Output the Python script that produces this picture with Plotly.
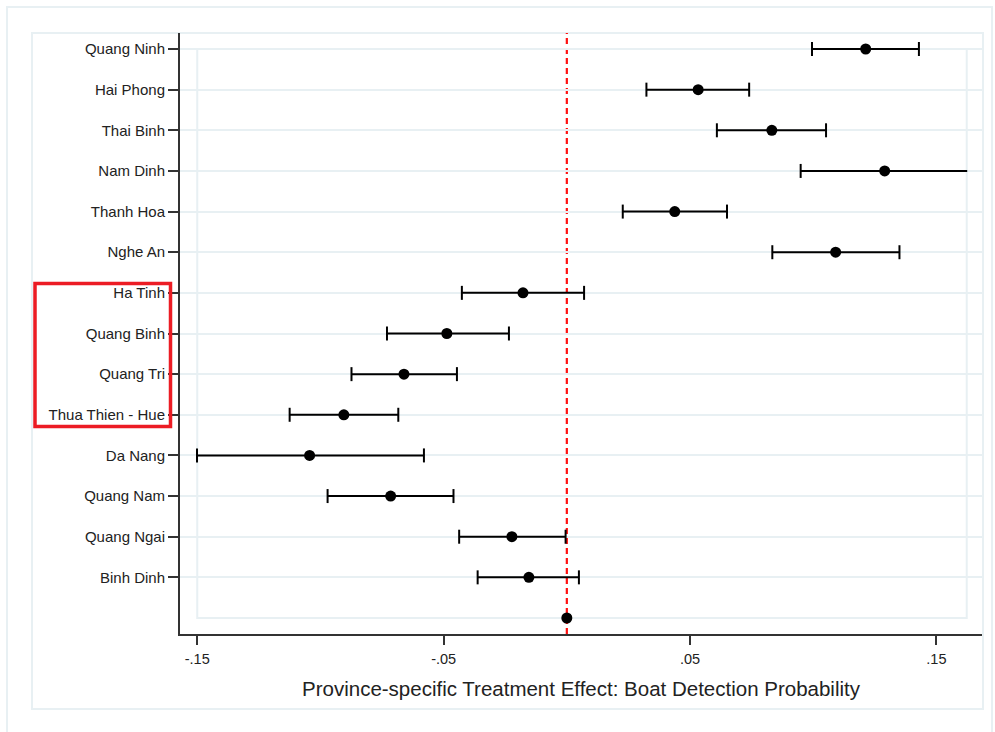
import plotly.graph_objects as go

# ---- data ----
provinces = ["Quang Ninh", "Hai Phong", "Thai Binh", "Nam Dinh", "Thanh Hoa", "Nghe An",
             "Ha Tinh", "Quang Binh", "Quang Tri", "Thua Thien - Hue", "Da Nang",
             "Quang Nam", "Quang Ngai", "Binh Dinh", ""]
estimate = [0.1213, 0.0533, 0.0832, 0.1290, 0.0438, 0.1091,
            -0.0178, -0.0487, -0.0661, -0.0905, -0.1044,
            -0.0715, -0.0223, -0.0154, 0.0]
ci_low = [0.0995, 0.0323, 0.0609, 0.0949, 0.0227, 0.0834,
          -0.0426, -0.0730, -0.0874, -0.1125, -0.1501,
          -0.0971, -0.0437, -0.0362, None]
ci_high = [0.1429, 0.0740, 0.1052, 0.1625, 0.0650, 0.1350,
           0.0070, -0.0235, -0.0446, -0.0684, -0.0580,
           -0.0460, -0.0005, 0.0049, None]
x_ticks = [-0.15, -0.05, 0.05, 0.15]
x_ticklabels = ["-.15", "-.05", ".05", ".15"]
x_title = "Province-specific Treatment Effect: Boat Detection Probability"

W, H = 995, 732
L, R, T, B = 180, 13, 33, 98
pw, ph = W - L - R, H - T - B

def px(x):
    return (x - L) / pw

def py(y):
    return (H - B - y) / ph

rows = list(range(1, len(provinces) + 1))

fig = go.Figure()

# CI lines
lx, ly = [], []
for r, lo, hi in zip(rows, ci_low, ci_high):
    if lo is None:
        continue
    lx += [lo, hi, None]
    ly += [r, r, None]
fig.add_trace(go.Scatter(x=lx, y=ly, mode="lines", line=dict(color="black", width=2),
                         hoverinfo="skip", showlegend=False))

# caps (Nam Dinh upper end reaches plot edge without cap)
cx, cy = [], []
for i, (r, lo, hi) in enumerate(zip(rows, ci_low, ci_high)):
    if lo is None:
        continue
    cx.append(lo); cy.append(r)
    if provinces[i] != "Nam Dinh":
        cx.append(hi); cy.append(r)
fig.add_trace(go.Scatter(x=cx, y=cy, mode="markers",
                         marker=dict(symbol="line-ns", size=10, line=dict(color="black", width=2)),
                         hoverinfo="skip", showlegend=False))

# point estimates
fig.add_trace(go.Scatter(x=estimate, y=rows, mode="markers",
                         marker=dict(color="black", size=11),
                         showlegend=False))

grid_col = "#e8f0f3"
shapes = []
# outer frame
shapes.append(dict(type="rect", xref="paper", yref="paper",
                   x0=px(7), x1=px(992), y0=py(745), y1=py(7),
                   line=dict(color=grid_col, width=2), layer="below"))
# graph region frame
shapes.append(dict(type="rect", xref="paper", yref="paper",
                   x0=px(32), x1=px(983), y0=py(709), y1=py(33),
                   line=dict(color=grid_col, width=2), layer="below"))
# inner plot region
shapes.append(dict(type="rect", xref="x", yref="y",
                   x0=-0.15, x1=0.1623, y0=1, y1=15,
                   line=dict(color=grid_col, width=2), layer="below"))
# zero line
shapes.append(dict(type="line", xref="x", yref="paper", x0=0, x1=0, y0=0, y1=1,
                   line=dict(color="#ff1010", width=2.2, dash="6px,4px"), layer="below"))
# red highlight box
shapes.append(dict(type="rect", xref="paper", yref="paper",
                   x0=px(35), x1=px(170.5), y0=py(426.5), y1=py(283.5),
                   line=dict(color="#ec1c24", width=3.5)))

fig.update_layout(
    width=W, height=H,
    margin=dict(l=L, r=R, t=T, b=B),
    paper_bgcolor="white", plot_bgcolor="white",
    font=dict(family="Liberation Sans, Arial, sans-serif", color="#222222"),
    shapes=shapes,
    showlegend=False,
)
fig.update_xaxes(
    range=[-0.157, 0.1685], tickvals=x_ticks, ticktext=x_ticklabels,
    ticks="outside", ticklen=9, tickwidth=2, tickcolor="#333333",
    showline=True, linecolor="#333333", linewidth=2, showgrid=False, zeroline=False,
    tickfont=dict(size=14.5), ticklabelstandoff=2,
    title=dict(text=x_title, font=dict(size=20.5), standoff=15),
)
fig.update_yaxes(
    range=[15.394, 0.606], tickvals=rows[:-1], ticktext=provinces[:-1],
    ticks="outside", ticklen=10, tickwidth=2, tickcolor="#333333",
    showline=True, linecolor="#333333", linewidth=2,
    showgrid=True, gridcolor=grid_col, gridwidth=2, zeroline=False,
    tickfont=dict(size=15), ticklabelstandoff=0,
)

fig.write_html("out.html", config={"displayModeBar": False},
               post_script="document.body.style.margin='0px';document.body.style.overflow='hidden';")
